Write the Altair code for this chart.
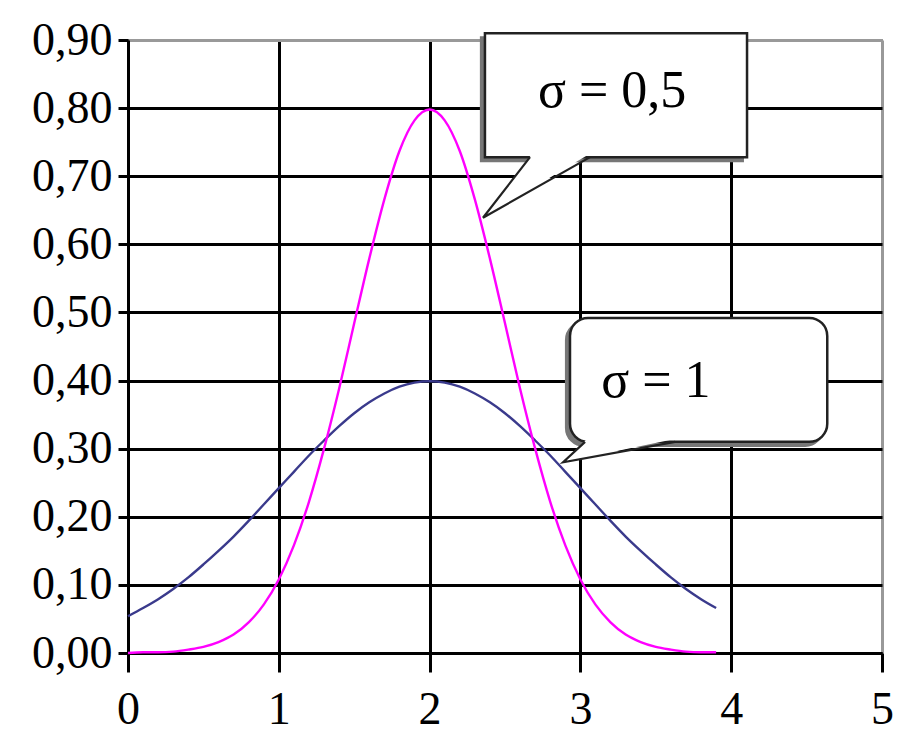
import altair as alt
import pandas as pd

# --- data ---
x_vals = [round(i * 0.1, 1) for i in range(40)]  # 0.0 .. 3.9
sigma1_vals = [0.054, 0.066, 0.079, 0.094, 0.111, 0.130, 0.150, 0.171, 0.194, 0.218,
               0.242, 0.266, 0.290, 0.312, 0.333, 0.352, 0.368, 0.381, 0.391, 0.397,
               0.399, 0.397, 0.391, 0.381, 0.368, 0.352, 0.333, 0.312, 0.290, 0.266,
               0.242, 0.218, 0.194, 0.171, 0.150, 0.130, 0.111, 0.094, 0.079, 0.066]
sigma05_vals = [0.000, 0.001, 0.001, 0.002, 0.005, 0.009, 0.016, 0.027, 0.045, 0.071,
                0.108, 0.158, 0.222, 0.300, 0.388, 0.484, 0.579, 0.666, 0.737, 0.782,
                0.798, 0.782, 0.737, 0.666, 0.579, 0.484, 0.388, 0.300, 0.222, 0.158,
                0.108, 0.071, 0.045, 0.027, 0.016, 0.009, 0.005, 0.002, 0.001, 0.001]
series_names = ["σ = 1", "σ = 0,5"]
series_colors = ["#3a3a8c", "#ff00ff"]
x_ticks = [0, 1, 2, 3, 4, 5]
y_ticks = [0.0, 0.1, 0.2, 0.3, 0.4, 0.5, 0.6, 0.7, 0.8, 0.9]

# callout annotations (data units)
callout_labels = ["σ = 0,5", "σ = 1"]
box_x = [2.367, 2.931]
box_x2 = [4.105, 4.637]
box_y = [0.910, 0.492]
box_y2 = [0.728, 0.310]
text_x = [3.21, 3.50]
text_y = [0.825, 0.400]
ptr_base_left = [2.666, 3.031]
ptr_base_right = [3.064, 3.627]
ptr_tip_x = [2.354, 2.885]
ptr_tip_y = [0.639, 0.280]

rows = []
for name, vals in zip(series_names, [sigma1_vals, sigma05_vals]):
    for x, y in zip(x_vals, vals):
        rows.append({"x": x, "y": y, "series": name})
curves_df = pd.DataFrame(rows)

xs = alt.Scale(domain=[0, 5], nice=False)
ys = alt.Scale(domain=[0, 0.9], nice=False)

FONT = "Liberation Serif"

curves = alt.Chart(curves_df).mark_line(strokeWidth=2.4, interpolate="monotone").encode(
    x=alt.X("x:Q", scale=xs, axis=alt.Axis(
        values=x_ticks, title=None, grid=True, format="d",
        gridColor={"condition": {"test": "datum.value >= 5", "value": "#999999"}, "value": "black"},
        gridWidth=3, domainColor="black", domainWidth=3, tickColor="black", tickWidth=3,
        tickSize=19, labelPadding=15, labelFont=FONT, labelFontSize=46, labelColor="black",
        labelFlush=False)),
    y=alt.Y("y:Q", scale=ys, axis=alt.Axis(
        values=y_ticks, title=None, grid=True,
        gridColor={"condition": {"test": "datum.value >= 0.89", "value": "#999999"}, "value": "black"},
        gridWidth=3, domainColor="black", domainWidth=3, tickColor="black", tickWidth=3,
        tickSize=10, labelPadding=6, labelFont=FONT, labelFontSize=46, labelColor="black",
        labelFlush=False,
        labelExpr="replace(format(datum.value, '.2f'), '.', ',')")),
    color=alt.Color("series:N", scale=alt.Scale(domain=series_names, range=series_colors), legend=None),
)

boxes_df = pd.DataFrame({
    "x": box_x, "x2": box_x2, "y": box_y, "y2": box_y2,
})
shadow_df = pd.DataFrame({
    "x": [v - 0.027 for v in box_x], "x2": [v - 0.027 for v in box_x2],
    "y": [v - 0.006 for v in box_y], "y2": [v - 0.006 for v in box_y2],
})

shadow0 = alt.Chart(shadow_df.iloc[[0]]).mark_rect(fill="#777777", stroke="#777777", strokeWidth=2).encode(
    x="x:Q", x2="x2:Q", y="y:Q", y2="y2:Q")
shadow1 = alt.Chart(shadow_df.iloc[[1]]).mark_rect(fill="#777777", stroke="#777777", strokeWidth=2,
                                                   cornerRadius=18).encode(
    x="x:Q", x2="x2:Q", y="y:Q", y2="y2:Q")
box0 = alt.Chart(boxes_df.iloc[[0]]).mark_rect(fill="white", stroke="#222222", strokeWidth=2.5).encode(
    x="x:Q", x2="x2:Q", y="y:Q", y2="y2:Q")
box1 = alt.Chart(boxes_df.iloc[[1]]).mark_rect(fill="white", stroke="#222222", strokeWidth=2.5,
                                               cornerRadius=18).encode(
    x="x:Q", x2="x2:Q", y="y:Q", y2="y2:Q")

# pointer fill (horizontal area from base down to tip) and its two edges
fill_rows = []
edge_rows = []
for i in range(2):
    fill_rows.append({"id": i, "y": box_y2[i] + 0.004, "x": ptr_base_left[i] + 0.01, "x2": ptr_base_right[i] - 0.01})
    fill_rows.append({"id": i, "y": ptr_tip_y[i], "x": ptr_tip_x[i], "x2": ptr_tip_x[i]})
    edge_rows.append({"id": i, "o": 0, "x": ptr_base_left[i], "y": box_y2[i]})
    edge_rows.append({"id": i, "o": 1, "x": ptr_tip_x[i], "y": ptr_tip_y[i]})
    edge_rows.append({"id": i, "o": 2, "x": ptr_base_right[i], "y": box_y2[i]})
fill_df = pd.DataFrame(fill_rows)
edge_df = pd.DataFrame(edge_rows)

ptr_fill = alt.Chart(fill_df).mark_area(orient="horizontal", fill="white", opacity=1).encode(
    y="y:Q", x="x:Q", x2="x2:Q", detail="id:N")
ptr_edge = alt.Chart(edge_df).mark_line(color="#222222", strokeWidth=2.2).encode(
    x="x:Q", y="y:Q", order="o:Q", detail="id:N")

text_df = pd.DataFrame({"label": callout_labels, "x": text_x, "y": text_y})
texts = alt.Chart(text_df).mark_text(font=FONT, fontSize=52, color="black", align="center",
                                     baseline="middle").encode(
    x="x:Q", y="y:Q", text="label:N")

chart = alt.layer(
    curves, shadow0, shadow1, box0, box1, ptr_fill, ptr_edge, texts
).properties(
    width=754, height=613,
    autosize=alt.AutoSizeParams(type="none"),
    padding={"left": 120, "top": 32, "right": 11, "bottom": 85},
).configure_view(stroke="#999999", strokeWidth=2)

chart.save("out.html", embed_options={"renderer": "svg", "actions": False})
